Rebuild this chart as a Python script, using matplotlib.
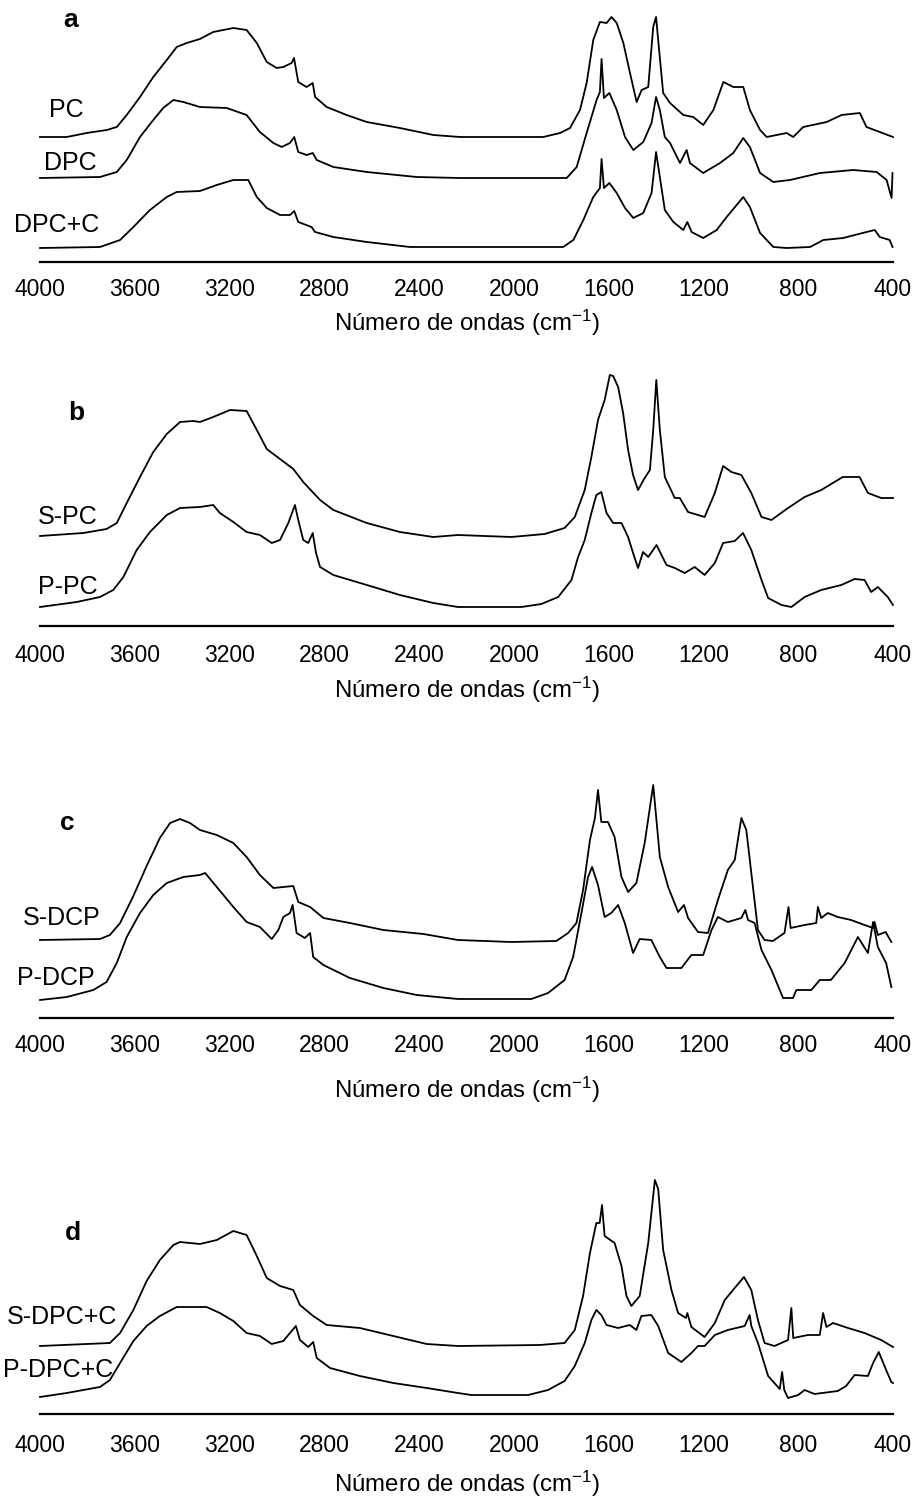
import matplotlib
matplotlib.use('Agg')
import matplotlib.pyplot as plt

plt.rcParams['font.family'] = ['Liberation Sans', 'DejaVu Sans']
plt.rcParams['mathtext.default'] = 'regular'

# ---- data: wavenumber (cm-1) and relative absorbance (arbitrary units) ----
# panel a
pc_wn = [4000, 3887, 3803, 3718, 3676, 3634, 3578, 3522, 3465, 3423, 3381, 3325, 3269, 3184, 3128, 3085,
         3043, 3001, 2973, 2938, 2928, 2910, 2875, 2849, 2839, 2790, 2706, 2621, 2481, 2340, 2227, 1876,
         1805, 1763, 1721, 1693, 1665, 1637, 1609, 1588, 1566, 1538, 1510, 1482, 1461, 1433, 1412, 1400,
         1391, 1370, 1341, 1285, 1243, 1201, 1158, 1116, 1074, 1032, 1004, 961, 933, 849, 821, 779, 680,
         617, 540, 512, 456, 400]
pc_abs = [125, 125, 129, 132, 135, 147, 165, 185, 202, 215, 219, 223, 230, 234, 232, 219,
          200, 194, 195, 199, 204, 180, 175, 179, 165, 155, 147, 140, 134, 127, 125, 125,
          129, 134, 152, 179, 222, 240, 239, 245, 239, 219, 189, 160, 172, 175, 235, 245,
          222, 169, 159, 147, 145, 137, 152, 180, 175, 175, 152, 132, 125, 129, 125, 135, 140,
          147, 149, 135, 130, 125]

dpc_wn = [4000, 3747, 3676, 3634, 3578, 3522, 3480, 3437, 3395, 3325, 3212, 3128, 3072, 3015, 2980, 2945,
          2927, 2910, 2875, 2849, 2832, 2762, 2621, 2410, 2227, 1777, 1735, 1693, 1651, 1637, 1630, 1620,
          1597, 1566, 1531, 1496, 1454, 1419, 1400, 1384, 1363, 1341, 1299, 1271, 1257, 1201, 1130, 1074,
          1032, 1004, 961, 905, 835, 708, 568, 469, 427, 406, 402]
dpc_abs = [84, 85, 90, 102, 125, 142, 154, 162, 160, 155, 154, 147, 130, 119, 115, 119,
           125, 110, 107, 109, 102, 95, 90, 85, 84, 84, 95, 129, 162, 170, 203, 164,
           169, 152, 125, 112, 120, 139, 165, 152, 125, 119, 99, 112, 99, 89, 99, 109,
           124, 115, 89, 80, 82, 89, 92, 90, 82, 64, 89]

dpcc_wn = [4000, 3747, 3662, 3606, 3536, 3465, 3423, 3325, 3254, 3184, 3121, 3085, 3043, 2987, 2945, 2927,
           2910, 2854, 2839, 2762, 2621, 2438, 2227, 1792, 1749, 1707, 1665, 1637, 1630, 1620, 1597, 1566,
           1531, 1496, 1454, 1419, 1400, 1384, 1363, 1327, 1285, 1268, 1250, 1201, 1144, 1102, 1060, 1032,
           1004, 961, 905, 849, 750, 694, 610, 512, 477, 456, 414, 402]
dpcc_abs = [14, 15, 22, 35, 52, 65, 70, 71, 77, 82, 82, 65, 54, 47, 47, 51,
            40, 35, 30, 25, 20, 15, 15, 15, 22, 42, 65, 74, 103, 74, 79, 69,
            54, 44, 49, 69, 110, 85, 52, 40, 32, 40, 30, 24, 32, 45, 57, 65,
            55, 29, 15, 14, 15, 22, 24, 30, 32, 25, 22, 15]

# panel b
spc_wn = [4000, 3817, 3719, 3676, 3634, 3578, 3522, 3465, 3409, 3353, 3325, 3269, 3198, 3128, 3085, 3043,
          2987, 2931, 2889, 2818, 2762, 2621, 2481, 2340, 2236, 2011, 1870, 1786, 1743, 1701, 1673, 1645,
          1617, 1595, 1581, 1560, 1539, 1518, 1497, 1476, 1448, 1426, 1412, 1399, 1384, 1363, 1321, 1300,
          1265, 1195, 1152, 1117, 1082, 1040, 998, 955, 913, 843, 773, 703, 647, 612, 541, 506, 450, 400]
spc_abs = [90, 93, 97, 103, 123, 149, 174, 192, 204, 205, 204, 209, 216, 215, 196, 177,
           167, 157, 144, 126, 116, 103, 94, 89, 91, 89, 92, 98, 109, 136, 169, 206,
           226, 251, 250, 239, 213, 176, 151, 136, 148, 156, 196, 246, 196, 149, 128, 128,
           114, 109, 133, 160, 154, 151, 133, 109, 106, 118, 129, 136, 144, 149, 149, 133, 128, 128]

ppc_wn = [4000, 3845, 3747, 3691, 3648, 3592, 3536, 3465, 3409, 3325, 3269, 3241, 3184, 3128, 3072, 3022,
          2987, 2952, 2924, 2910, 2889, 2868, 2849, 2835, 2818, 2762, 2621, 2481, 2340, 2236, 1968, 1884,
          1813, 1757, 1729, 1701, 1673, 1652, 1631, 1609, 1581, 1546, 1518, 1497, 1476, 1455, 1433, 1398,
          1356, 1321, 1279, 1237, 1195, 1152, 1117, 1068, 1033, 998, 955, 927, 871, 829, 773, 703, 618,
          562, 520, 492, 464, 422, 400]
ppc_abs = [19, 24, 29, 36, 49, 76, 94, 111, 118, 119, 121, 113, 104, 94, 91, 83,
           86, 103, 121, 106, 86, 83, 93, 73, 59, 51, 41, 31, 23, 19, 19, 22,
           29, 46, 69, 86, 113, 131, 134, 113, 103, 103, 89, 73, 58, 74, 69, 81,
           61, 58, 53, 59, 51, 63, 83, 85, 93, 76, 46, 28, 21, 19, 29, 36, 41,
           47, 46, 34, 39, 29, 21]

# panel c
sdcp_wn = [4000, 3747, 3705, 3662, 3606, 3550, 3494, 3451, 3409, 3367, 3325, 3254, 3184, 3128, 3072, 3015,
           2973, 2931, 2910, 2860, 2804, 2692, 2551, 2382, 2236, 2011, 1821, 1771, 1736, 1708, 1679, 1658,
           1645, 1631, 1603, 1575, 1546, 1518, 1483, 1448, 1412, 1384, 1349, 1307, 1282, 1265, 1223, 1181,
           1139, 1097, 1068, 1040, 1019, 998, 970, 942, 907, 858, 841, 832, 773, 724, 717, 703, 675, 633,
           577, 520, 484, 478, 464, 431, 407]
sdcp_abs = [78, 79, 83, 95, 122, 152, 180, 195, 199, 195, 188, 183, 175, 161, 143, 130,
            131, 132, 116, 111, 100, 95, 88, 84, 78, 76, 77, 85, 95, 128, 178, 200,
            228, 196, 196, 181, 141, 126, 135, 175, 233, 161, 131, 106, 113, 100, 86, 85,
            118, 148, 158, 200, 188, 145, 88, 78, 77, 85, 111, 90, 93, 95, 111, 100, 105, 101,
            98, 93, 90, 96, 83, 86, 76]

pdcp_wn = [4000, 3887, 3775, 3719, 3676, 3634, 3578, 3522, 3465, 3395, 3325, 3303, 3254, 3184, 3128, 3072,
           3022, 2994, 2973, 2945, 2934, 2917, 2882, 2860, 2847, 2804, 2692, 2551, 2410, 2236, 1926, 1856,
           1786, 1750, 1715, 1687, 1670, 1645, 1617, 1589, 1560, 1532, 1497, 1469, 1420, 1384, 1356, 1293,
           1251, 1201, 1166, 1139, 1097, 1040, 1023, 1012, 984, 955, 913, 864, 822, 808, 745, 709, 662,
           604, 548, 506, 484, 464, 429, 407]
pdcp_abs = [18, 21, 28, 36, 55, 81, 105, 123, 135, 141, 143, 145, 131, 111, 96, 91,
            79, 88, 101, 105, 113, 85, 80, 85, 61, 53, 40, 30, 23, 19, 19, 25,
            38, 61, 105, 141, 151, 133, 101, 105, 113, 95, 65, 79, 78, 61, 50, 50,
            63, 63, 88, 101, 96, 100, 108, 98, 95, 68, 48, 20, 20, 28, 28, 38, 38,
            55, 81, 65, 96, 71, 55, 31]

# panel d
sdpcc_wn = [4000, 3705, 3662, 3606, 3550, 3494, 3437, 3409, 3325, 3254, 3184, 3128, 3085, 3043, 2987, 2931,
            2903, 2847, 2790, 2650, 2509, 2368, 2236, 1891, 1786, 1743, 1708, 1679, 1652, 1638, 1628, 1617,
            1575, 1546, 1525, 1504, 1469, 1433, 1405, 1391, 1370, 1335, 1307, 1274, 1268, 1251, 1195, 1152,
            1110, 1068, 1029, 998, 970, 942, 900, 843, 829, 821, 759, 709, 695, 681, 653, 590, 520, 450, 400]
sdpcc_abs = [68, 71, 81, 104, 133, 154, 169, 172, 170, 174, 183, 179, 158, 136, 128, 124,
             109, 98, 89, 86, 78, 70, 68, 69, 71, 84, 118, 161, 191, 191, 209, 178,
             171, 148, 118, 108, 118, 171, 234, 225, 164, 124, 101, 96, 101, 87, 77, 91,
             114, 126, 137, 124, 94, 71, 68, 74, 106, 76, 79, 79, 101, 87, 91, 86, 81, 74, 67]

pdpcc_wn = [4000, 3887, 3747, 3705, 3662, 3606, 3550, 3494, 3423, 3297, 3241, 3184, 3128, 3072, 3022, 2973,
            2945, 2920, 2903, 2868, 2847, 2832, 2776, 2650, 2509, 2368, 2236, 2180, 1940, 1856, 1786, 1743,
            1701, 1673, 1652, 1631, 1609, 1560, 1511, 1483, 1462, 1420, 1391, 1349, 1293, 1251, 1223, 1195,
            1152, 1097, 1026, 1005, 998, 970, 927, 878, 868, 859, 843, 800, 773, 731, 633, 598, 562, 506,
            484, 460, 429, 407, 400]
pdpcc_abs = [17, 21, 27, 34, 51, 73, 88, 98, 107, 107, 101, 93, 81, 78, 70, 73,
             81, 88, 74, 67, 72, 56, 46, 38, 31, 26, 21, 19, 19, 24, 33, 48,
             71, 94, 104, 99, 89, 86, 89, 84, 98, 99, 88, 61, 52, 61, 68, 68,
             79, 84, 88, 99, 88, 71, 38, 25, 42, 24, 16, 19, 24, 20, 23, 28, 39, 38,
             51, 62, 44, 32, 31]

panels = [
    ('a', [(pc_wn, pc_abs), (dpc_wn, dpc_abs), (dpcc_wn, dpcc_abs)],
     [('PC', 3890, 152), ('DPC', 3873, 99), ('DPC+C', 3930, 37)], (3873, 242)),
    ('b', [(spc_wn, spc_abs), (ppc_wn, ppc_abs)],
     [('S-PC', 3882, 109), ('P-PC', 3882, 39)], (3845, 213)),
    ('c', [(sdcp_wn, sdcp_abs), (pdcp_wn, pdcp_abs)],
     [('S-DCP', 3909, 100), ('P-DCP', 3932, 40)], (3884, 195)),
    ('d', [(sdpcc_wn, sdpcc_abs), (pdpcc_wn, pdpcc_abs)],
     [('S-DPC+C', 3909, 97), ('P-DPC+C', 3924, 44)], (3863, 181)),
]

# layout in pixels (figure is 918 x 1499)
W, Hf = 918, 1499
x0, x1 = 40, 893
axis_y = [262, 626, 1018, 1414]
tick_pad = [11.5, 13, 11.5, 14.5]
xlabel_off = [61, 64, 72, 70]
H = 262

fig = plt.figure(figsize=(W / 100, Hf / 100), dpi=100)

for i, (letter, curves, labels, letter_pos) in enumerate(panels):
    ay = axis_y[i]
    ax = fig.add_axes([x0 / W, 1 - ay / Hf, (x1 - x0) / W, H / Hf])
    for wn, ab in curves:
        ax.plot(wn, ab, color='black', linewidth=1.3, clip_on=False)
    ax.set_xlim(4000, 400)
    ax.set_ylim(0, H)
    ax.set_xticks(list(range(4000, 399, -400)))
    ax.set_yticks([])
    ax.tick_params(axis='x', length=0, pad=tick_pad[i], labelsize=16.5)
    for s in ['top', 'left', 'right']:
        ax.spines[s].set_visible(False)
    ax.spines['bottom'].set_linewidth(1.6)
    ax.patch.set_alpha(0)
    ax.set_xlabel('Número de ondas (cm$^{-1}$)', fontsize=17.3, va='center')
    ax.xaxis.set_label_coords(0.5, -xlabel_off[i] / H)
    for txt, tx, ty in labels:
        ax.text(tx, ty, txt, fontsize=18, ha='center', va='center')
    ax.text(letter_pos[0], letter_pos[1], letter, fontsize=19, fontweight='bold',
            ha='center', va='center')

fig.savefig('out.png', dpi=100)
